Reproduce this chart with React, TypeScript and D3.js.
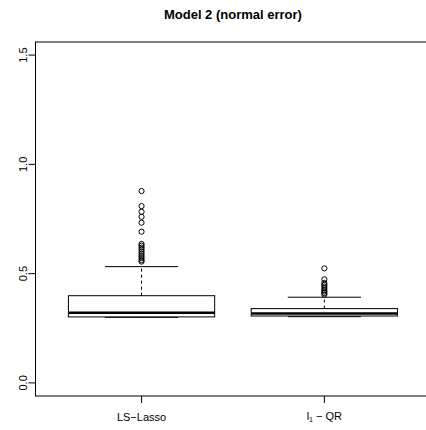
import React from "react";
import * as d3 from "d3";

const categories = ["LS−Lasso", "l1−QR"];
const whiskerLow = [0.3, 0.303];
const q1 = [0.302, 0.306];
const medians = [0.321, 0.317];
const q3 = [0.399, 0.34];
const whiskerHigh = [0.532, 0.392];
const outliersLS = [0.878, 0.809, 0.783, 0.76, 0.733, 0.692, 0.636, 0.628, 0.619, 0.61, 0.6, 0.59, 0.58, 0.571, 0.562, 0.555];
const outliersQR = [0.524, 0.474, 0.457, 0.449, 0.441, 0.433, 0.425, 0.418, 0.411, 0.404];
const outliers = [outliersLS, outliersQR];
const yTicks = [0.0, 0.5, 1.0, 1.5];
const title = "Model 2 (normal error)";

const W = 426;
const H = 430;
const FONT = "'Liberation Sans', Arial, Helvetica, sans-serif";

export default function App() {
  const x = d3.scaleLinear().domain([0.42, 2.58]).range([35.5, 430.4]);
  const y = d3.scaleLinear().domain([-0.06, 1.56]).range([396, 42]);
  const left = x(0.42);
  const right = x(2.58);
  const top = y(1.56);
  const bottom = y(-0.06);
  const boxHalf = x(1.4) - x(1);
  const capHalf = x(1.2) - x(1);

  return (
    <svg
      width={W}
      height={H}
      style={{ position: "absolute", left: 0, top: 0, background: "#fff" }}
      fontFamily={FONT}
    >
      <rect x={0} y={0} width={W} height={H} fill="#fff" />
      <text x={(left + right) / 2} y={18.5} textAnchor="middle" fontWeight="bold" fontSize={13}>
        {title}
      </text>
      {/* plot frame */}
      <rect x={left} y={top} width={right - left} height={bottom - top} fill="none" stroke="#000" strokeWidth={1} />
      {/* y axis */}
      {yTicks.map((t) => (
        <g key={t}>
          <line x1={left - 7} x2={left} y1={y(t)} y2={y(t)} stroke="#000" />
          <text
            transform={`translate(${27},${y(t)}) rotate(-90)`}
            textAnchor="middle"
            fontSize={11}
          >
            {t.toFixed(1)}
          </text>
        </g>
      ))}
      {/* x axis ticks */}
      {categories.map((c, i) => (
        <line key={c} x1={x(i + 1)} x2={x(i + 1)} y1={bottom} y2={bottom + 7} stroke="#000" />
      ))}
      <text x={x(1)} y={421} textAnchor="middle" fontSize={11}>
        {categories[0]}
      </text>
      <text x={x(2)} y={420} textAnchor="middle" fontSize={11}>
        <tspan>l</tspan>
        <tspan fontSize={7} dy={2}>1</tspan>
        <tspan dy={-2}>{" − QR"}</tspan>
      </text>
      {/* boxes */}
      {categories.map((c, i) => {
        const cx = x(i + 1);
        return (
          <g key={c} stroke="#000" fill="none">
            <line x1={cx} x2={cx} y1={y(q3[i])} y2={y(whiskerHigh[i])} strokeDasharray="3,3" />
            <line x1={cx} x2={cx} y1={y(q1[i])} y2={y(whiskerLow[i])} strokeDasharray="3,3" />
            <line x1={cx - capHalf} x2={cx + capHalf} y1={y(whiskerHigh[i])} y2={y(whiskerHigh[i])} />
            <line x1={cx - capHalf} x2={cx + capHalf} y1={y(whiskerLow[i])} y2={y(whiskerLow[i])} />
            <rect
              x={cx - boxHalf}
              y={y(q3[i])}
              width={2 * boxHalf}
              height={y(q1[i]) - y(q3[i])}
              fill="#fff"
            />
            <line x1={cx - boxHalf} x2={cx + boxHalf} y1={y(medians[i])} y2={y(medians[i])} strokeWidth={2.5} />
            {outliers[i].map((v, k) => (
              <circle key={k} cx={cx} cy={y(v)} r={2.6} strokeWidth={1} />
            ))}
          </g>
        );
      })}
    </svg>
  );
}
